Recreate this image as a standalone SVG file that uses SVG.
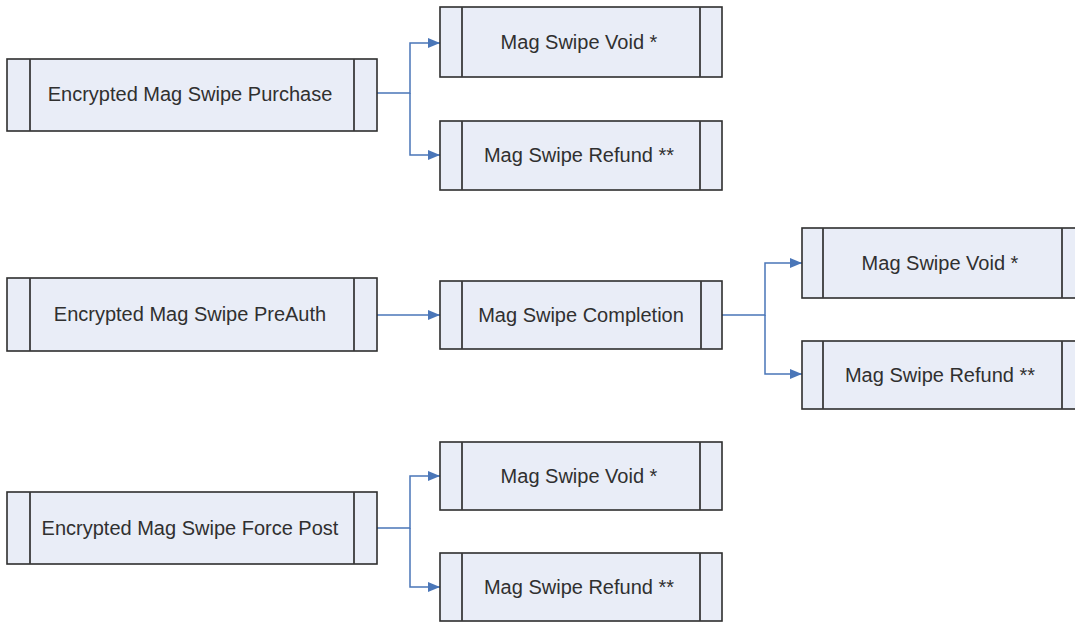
<svg xmlns="http://www.w3.org/2000/svg" width="1075" height="622" viewBox="0 0 1075 622">
<defs>
<marker id="arr" markerUnits="userSpaceOnUse" markerWidth="12" markerHeight="12" viewBox="0 0 12 12" refX="12" refY="6" orient="auto">
<path d="M0,1 L12,6 L0,11 Z" fill="#4a76b8"/>
</marker>
</defs>
<style>
.box{fill:#e9edf7;stroke:#2e2e2e;stroke-width:1.6}
.div{stroke:#3a3a3a;stroke-width:1.8}
.lbl{font-family:"Liberation Sans",Arial,sans-serif;font-size:20px;fill:#303030;text-anchor:middle}
.con{fill:none;stroke:#4a76b8;stroke-width:1.5}
</style>
<rect width="1075" height="622" fill="#ffffff"/>
<g id="connectors">
<path class="con" d="M377,93 H410 V43 H440" marker-end="url(#arr)"/>
<path class="con" d="M410,93 V155 H440" marker-end="url(#arr)"/>
<path class="con" d="M377,315 H440" marker-end="url(#arr)"/>
<path class="con" d="M722,315 H765 V263 H802" marker-end="url(#arr)"/>
<path class="con" d="M765,315 V374 H802" marker-end="url(#arr)"/>
<path class="con" d="M377,528 H410 V476 H440" marker-end="url(#arr)"/>
<path class="con" d="M410,528 V587 H440" marker-end="url(#arr)"/>
</g>
<g id="purchase">
<rect class="box" x="7" y="59" width="370" height="72"/>
<line class="div" x1="30" y1="59" x2="30" y2="131"/>
<line class="div" x1="354" y1="59" x2="354" y2="131"/>
<text class="lbl" x="190" y="101">Encrypted Mag Swipe Purchase</text>
</g>
<g id="void1">
<rect class="box" x="440" y="7" width="282" height="70"/>
<line class="div" x1="462" y1="7" x2="462" y2="77"/>
<line class="div" x1="700" y1="7" x2="700" y2="77"/>
<text class="lbl" x="579" y="49">Mag Swipe Void *</text>
</g>
<g id="refund1">
<rect class="box" x="440" y="121" width="282" height="69"/>
<line class="div" x1="462" y1="121" x2="462" y2="190"/>
<line class="div" x1="700" y1="121" x2="700" y2="190"/>
<text class="lbl" x="579" y="162">Mag Swipe Refund **</text>
</g>
<g id="preauth">
<rect class="box" x="7" y="278" width="370" height="73"/>
<line class="div" x1="30" y1="278" x2="30" y2="351"/>
<line class="div" x1="354" y1="278" x2="354" y2="351"/>
<text class="lbl" x="190" y="321">Encrypted Mag Swipe PreAuth</text>
</g>
<g id="completion">
<rect class="box" x="440" y="281" width="282" height="68"/>
<line class="div" x1="462" y1="281" x2="462" y2="349"/>
<line class="div" x1="701" y1="281" x2="701" y2="349"/>
<text class="lbl" x="581" y="322">Mag Swipe Completion</text>
</g>
<g id="void2">
<rect class="box" x="802" y="228" width="282" height="70"/>
<line class="div" x1="823" y1="228" x2="823" y2="298"/>
<line class="div" x1="1062" y1="228" x2="1062" y2="298"/>
<text class="lbl" x="940" y="270">Mag Swipe Void *</text>
</g>
<g id="refund2">
<rect class="box" x="802" y="341" width="282" height="68"/>
<line class="div" x1="823" y1="341" x2="823" y2="409"/>
<line class="div" x1="1062" y1="341" x2="1062" y2="409"/>
<text class="lbl" x="940" y="382">Mag Swipe Refund **</text>
</g>
<g id="forcepost">
<rect class="box" x="7" y="492" width="370" height="72"/>
<line class="div" x1="30" y1="492" x2="30" y2="564"/>
<line class="div" x1="354" y1="492" x2="354" y2="564"/>
<text class="lbl" x="190" y="535">Encrypted Mag Swipe Force Post</text>
</g>
<g id="void3">
<rect class="box" x="440" y="442" width="282" height="68"/>
<line class="div" x1="462" y1="442" x2="462" y2="510"/>
<line class="div" x1="700" y1="442" x2="700" y2="510"/>
<text class="lbl" x="579" y="483">Mag Swipe Void *</text>
</g>
<g id="refund3">
<rect class="box" x="440" y="553" width="282" height="68"/>
<line class="div" x1="462" y1="553" x2="462" y2="621"/>
<line class="div" x1="700" y1="553" x2="700" y2="621"/>
<text class="lbl" x="579" y="594">Mag Swipe Refund **</text>
</g>
</svg>
